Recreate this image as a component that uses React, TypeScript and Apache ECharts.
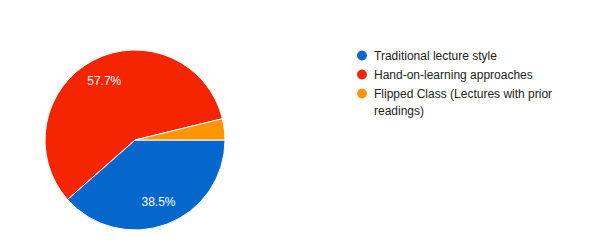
import React, { useEffect, useRef } from "react";
import * as echarts from "echarts";

const categories = [
  "Traditional lecture style",
  "Hand-on-learning approaches",
  "Flipped Class (Lectures with prior readings)",
];
const values = [38.5, 57.7, 3.8];
const colors = ["#0566cc", "#f42500", "#ff9500"];

const FONT = "Arial, 'Liberation Sans', sans-serif";

export default function App() {
  const ref = useRef<HTMLDivElement>(null);
  useEffect(() => {
    if (!ref.current) return;
    const chart = echarts.init(ref.current, undefined, { renderer: "svg" });
    const data = categories.map((name, i) => ({
      name,
      value: values[i],
      itemStyle: { color: colors[i] },
    }));
    const legendBase = {
      orient: "vertical",
      left: 350,
      icon: "circle",
      itemWidth: 14,
      itemHeight: 12,
      itemGap: 2,
      textStyle: {
        fontSize: 12,
        color: "#222222",
        lineHeight: 17,
        fontFamily: FONT,
      },
    };
    chart.setOption({
      animation: false,
      backgroundColor: "#ffffff",
      textStyle: { fontFamily: FONT },
      legend: [
        {
          ...legendBase,
          top: 42,
          data: [{ name: categories[0] }, { name: categories[1] }],
        },
        {
          ...legendBase,
          top: 63,
          formatter: (name: string) => "\n" + name,
          data: [
            {
              name: categories[2],
              textStyle: {
                width: 212,
                overflow: "break",
              },
            },
          ],
        },
      ],
      series: [
        {
          type: "pie",
          center: [135, 140],
          radius: [0, 90],
          startAngle: 0,
          clockwise: true,
          label: { show: false },
          labelLine: { show: false },
          itemStyle: { borderColor: "#ffffff", borderWidth: 1 },
          data,
        },
        {
          type: "pie",
          center: [135, 140],
          radius: [0, 127],
          startAngle: 0,
          clockwise: true,
          silent: true,
          legendHoverLink: false,
          itemStyle: { color: "transparent", borderWidth: 0 },
          label: {
            show: true,
            position: "inside",
            color: "#ffffff",
            fontSize: 12,
            fontFamily: FONT,
            formatter: (p: any) => (p.value >= 10 ? p.value.toFixed(1) + "%" : ""),
          },
          labelLine: { show: false },
          data: categories.map((name, i) => ({ name: name + " ", value: values[i] })),
        },
      ],
    });
    return () => chart.dispose();
  }, []);
  return (
    <div
      ref={ref}
      style={{ position: "fixed", left: 0, top: 0, width: 591, height: 249 }}
    />
  );
}
